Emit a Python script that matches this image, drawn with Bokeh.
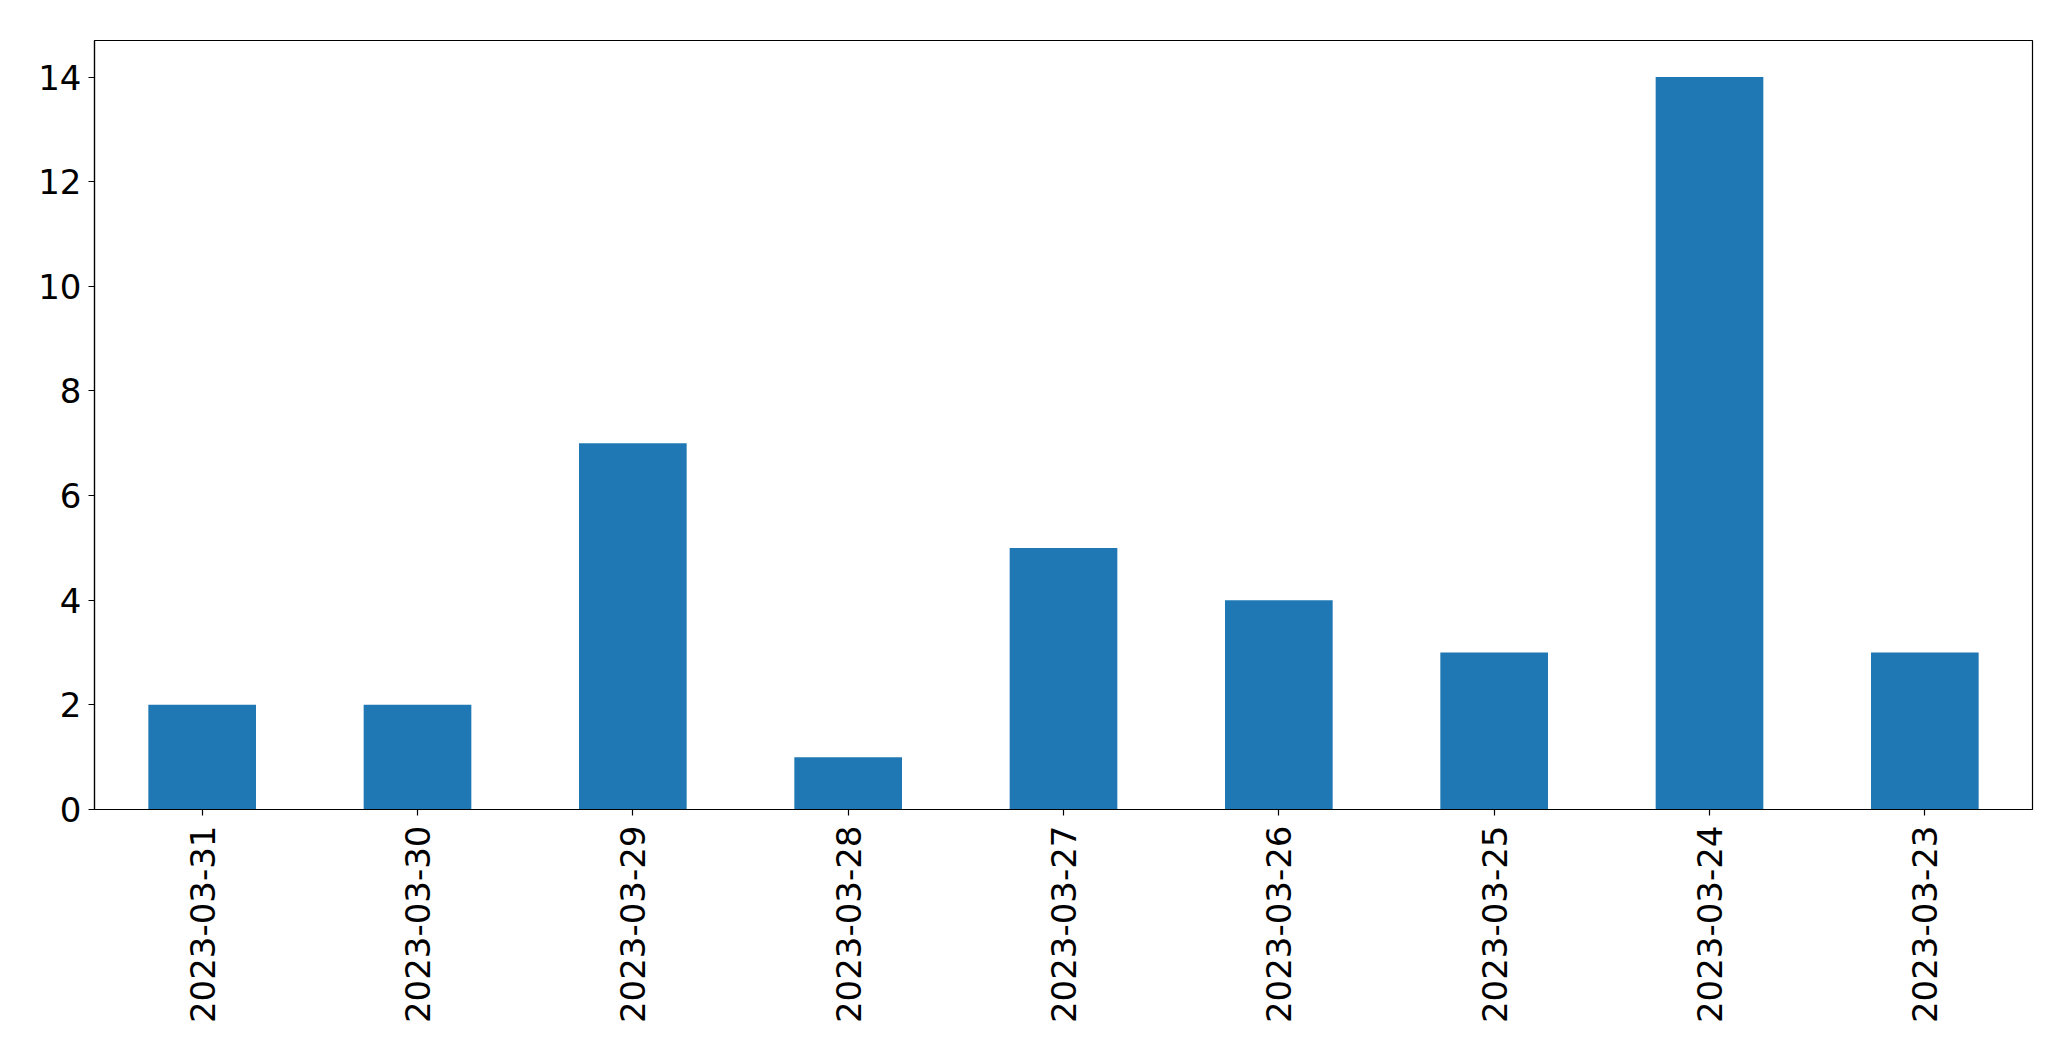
import math
from bokeh.plotting import figure
from bokeh.models import FactorRange, Range1d, SingleIntervalTicker, ColumnDataSource
from bokeh.embed import file_html
from bokeh.resources import INLINE

dates = ["2023-03-31", "2023-03-30", "2023-03-29", "2023-03-28", "2023-03-27",
         "2023-03-26", "2023-03-25", "2023-03-24", "2023-03-23"]
counts = [2, 2, 7, 1, 5, 4, 3, 14, 3]

src = ColumnDataSource(data=dict(date=dates, count=counts))

p = figure(width=2055, height=1045, output_backend="svg", toolbar_location=None,
           x_range=FactorRange(factors=dates, range_padding=0),
           y_range=Range1d(0, 14.7),
           min_border_left=94, min_border_top=40, min_border_right=23, min_border_bottom=236)

p.vbar(x="date", top="count", width=0.5, source=src, color="#1f77b4", line_width=0)

p.xgrid.visible = False
p.ygrid.visible = False
p.outline_line_color = "black"
p.outline_line_width = 1.2

p.yaxis.ticker = SingleIntervalTicker(interval=2, num_minor_ticks=0)
for ax in (p.xaxis[0], p.yaxis[0]):
    ax.axis_line_color = "black"
    ax.axis_line_width = 1.2
    ax.major_tick_line_color = "black"
    ax.major_tick_line_width = 1.2
    ax.major_tick_out = 6
    ax.major_tick_in = 0
    ax.minor_tick_line_color = None
    ax.major_label_text_font = "DejaVu Sans"
    ax.major_label_text_font_size = "34px"
    ax.major_label_text_color = "black"

p.yaxis.major_label_standoff = 7
p.xaxis.major_label_standoff = 10
p.xaxis.major_label_orientation = math.pi / 2

open("out.html", "w").write(file_html(p, INLINE))
